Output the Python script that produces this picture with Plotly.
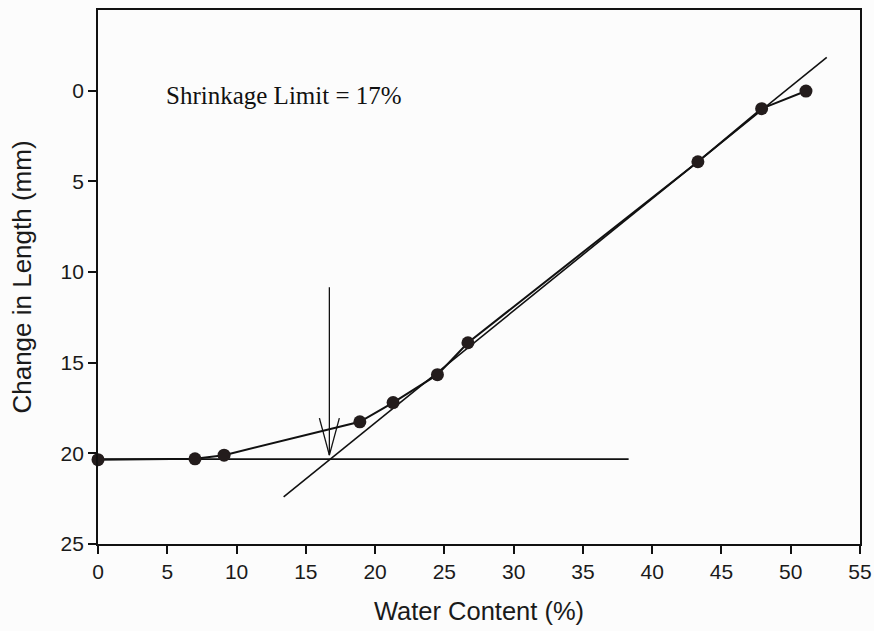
import plotly.graph_objects as go

# Data
water_content = [0.0, 7.0, 9.1, 18.9, 21.3, 24.5, 26.7, 43.3, 47.9, 51.1]
change_in_length = [20.35, 20.3, 20.1, 18.26, 17.2, 15.66, 13.9, 3.92, 0.99, 0.02]

# Linear fit (visual trend line) end points
fit_x = [13.4, 52.6]
fit_y = [22.4, -1.84]

# Horizontal residual line
horiz_x = [0.0, 38.3]
horiz_y = [20.32, 20.32]

# Shrinkage limit arrow
arrow_x = 16.7
arrow_top = 10.84
arrow_tip = 20.1
head_dx = 0.72
head_dy = 2.04

x_ticks = [0, 5, 10, 15, 20, 25, 30, 35, 40, 45, 50, 55]
y_ticks = [0, 5, 10, 15, 20, 25]

ink = "#111111"

fig = go.Figure()

fig.add_trace(go.Scatter(x=horiz_x, y=horiz_y, mode="lines",
                         line=dict(color=ink, width=1.6), showlegend=False))
fig.add_trace(go.Scatter(x=fit_x, y=fit_y, mode="lines",
                         line=dict(color=ink, width=1.6), showlegend=False))
fig.add_trace(go.Scatter(x=water_content, y=change_in_length, mode="lines+markers",
                         line=dict(color=ink, width=2),
                         marker=dict(size=13, color="#231c1c", line=dict(width=0)),
                         cliponaxis=False, showlegend=False))

# Arrow
fig.add_shape(type="line", x0=arrow_x, x1=arrow_x, y0=arrow_top, y1=arrow_tip,
              xref="x", yref="y", line=dict(color=ink, width=1.3))
fig.add_shape(type="line", x0=arrow_x - head_dx, x1=arrow_x, y0=arrow_tip - head_dy, y1=arrow_tip,
              xref="x", yref="y", line=dict(color=ink, width=1.3))
fig.add_shape(type="line", x0=arrow_x + head_dx, x1=arrow_x, y0=arrow_tip - head_dy, y1=arrow_tip,
              xref="x", yref="y", line=dict(color=ink, width=1.3))

fig.add_annotation(x=4.75, y=0.27, xref="x", yref="y", text="Shrinkage Limit = 17%",
                   showarrow=False, xanchor="left", yanchor="middle",
                   font=dict(family="Liberation Serif", size=25, color=ink))

fig.update_layout(
    width=874, height=631,
    margin=dict(l=98, r=14, t=10, b=87),
    paper_bgcolor="#fcfcfc", plot_bgcolor="#fcfcfc",
    font=dict(family="Liberation Sans", color="#1a1a1a"),
)
fig.update_xaxes(range=[0, 55], tickvals=x_ticks, ticks="outside", ticklen=8, tickwidth=1.6,
                 tickcolor=ink, showline=True, linecolor=ink, linewidth=1.8, mirror=True,
                 showgrid=False, zeroline=False, tickfont=dict(size=21), automargin=False,
                 title=dict(text="Water Content (%)", font=dict(size=25.5), standoff=20))
fig.update_yaxes(range=[25, -4.45], tickvals=y_ticks, ticks="outside", ticklen=8, tickwidth=1.6,
                 tickcolor=ink, showline=True, linecolor=ink, linewidth=1.8, mirror=True,
                 showgrid=False, zeroline=False, tickfont=dict(size=21), automargin=False,
                 title=dict(text="Change in Length (mm)", font=dict(size=26), standoff=21))

fig.write_html("out.html")
